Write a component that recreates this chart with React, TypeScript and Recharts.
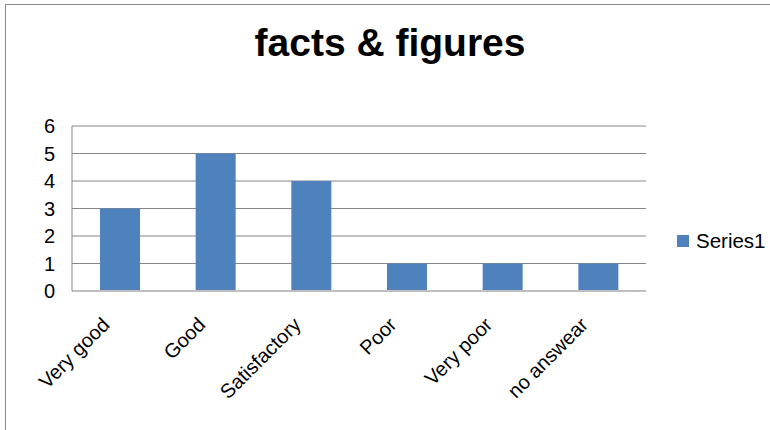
import { BarChart, Bar, XAxis, YAxis, CartesianGrid, Legend } from 'recharts'

const categories = ['Very good', 'Good', 'Satisfactory', 'Poor', 'Very poor', 'no answear']
const series1 = [3, 5, 4, 1, 1, 1]
const yTicks = [0, 1, 2, 3, 4, 5, 6]

const data = categories.map((name, i) => ({ name, Series1: series1[i] }))

const FONT = '"Liberation Sans", Arial, sans-serif'

function AngledTick({ x, y, payload }: any) {
  const tx = x - 9
  const ty = y + 27
  return (
    <text
      x={tx}
      y={ty}
      transform={`rotate(-45, ${tx}, ${ty})`}
      textAnchor="end"
      fontSize={20}
      fill="#000"
      fontFamily={FONT}
    >
      {payload.value}
    </text>
  )
}

function SeriesLegend() {
  return (
    <div style={{ display: 'flex', alignItems: 'center', fontFamily: FONT, fontSize: 20.5, color: '#000' }}>
      <span style={{ width: 12, height: 12, background: '#4F81BD', marginRight: 7 }} />
      <span>Series1</span>
    </div>
  )
}

export default function App() {
  return (
    <div
      style={{
        position: 'fixed',
        left: 0,
        top: 0,
        width: 770,
        height: 430,
        background: '#fff',
        overflow: 'hidden',
      }}
    >
      <div
        style={{
          position: 'absolute',
          left: 5,
          top: 4,
          width: 800,
          height: 460,
          borderTop: '1px solid #888',
          borderLeft: '1px solid #888',
        }}
      />
      <div
        style={{
          position: 'absolute',
          left: 0,
          width: 780,
          top: 18,
          textAlign: 'center',
          fontFamily: FONT,
          fontWeight: 'bold',
          fontSize: 39,
          color: '#000',
          lineHeight: '50px',
        }}
      >
        facts &amp; figures
      </div>
      <div style={{ position: 'absolute', left: 0, top: 0 }}>
        <BarChart
          width={770}
          height={430}
          data={data}
          margin={{ top: 126, right: 124, left: 0, bottom: 0 }}
        >
          <CartesianGrid horizontal vertical={false} stroke="#868686" strokeWidth={1} />
          <XAxis
            dataKey="name"
            height={139}
            interval={0}
            tickLine={false}
            axisLine={{ stroke: '#BFBFBF', strokeWidth: 2 }}
            tick={<AngledTick />}
          />
          <YAxis
            width={72}
            domain={[0, 6]}
            ticks={yTicks}
            interval={0}
            tickLine={false}
            tickSize={6}
            tickMargin={11}
            axisLine={{ stroke: '#868686', strokeWidth: 1 }}
            tick={{ fontSize: 20, fill: '#000', fontFamily: FONT }}
          />
          <Legend
            layout="horizontal"
            align="center"
            verticalAlign="middle"
            wrapperStyle={{ left: 677, top: 229, width: 'auto', height: 'auto' }}
            content={<SeriesLegend />}
          />
          <Bar dataKey="Series1" fill="#4F81BD" barSize={40} isAnimationActive={false} />
        </BarChart>
      </div>
    </div>
  )
}
